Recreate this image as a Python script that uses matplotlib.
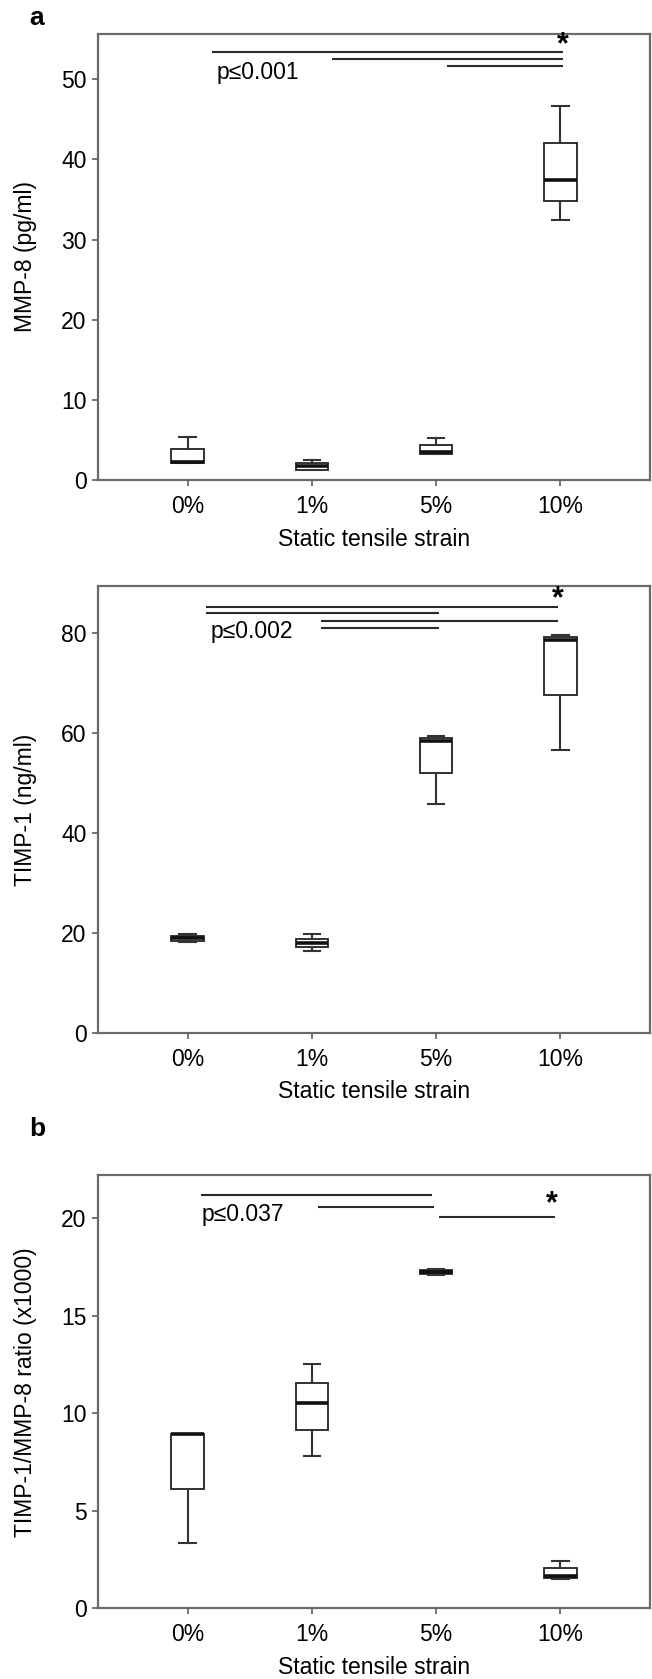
import matplotlib
matplotlib.use('Agg')
import matplotlib.pyplot as plt

plt.rcParams['font.family'] = ['Liberation Sans', 'DejaVu Sans']

categories = ['0%', '1%', '5%', '10%']

# MMP-8 (pg/ml): whisker low, Q1, median, Q3, whisker high
mmp8_lo = [2.1, 1.2, 3.3, 32.4]
mmp8_q1 = [2.14, 1.26, 3.3, 34.8]
mmp8_med = [2.2, 1.76, 3.45, 37.4]
mmp8_q3 = [3.86, 2.17, 4.4, 42.0]
mmp8_hi = [5.36, 2.5, 5.28, 46.7]

# TIMP-1 (ng/ml)
timp_lo = [18.2, 16.4, 45.7, 56.5]
timp_q1 = [18.4, 17.1, 52.0, 67.5]
timp_med = [19.0, 18.0, 58.4, 78.5]
timp_q3 = [19.3, 18.7, 58.9, 79.1]
timp_hi = [19.8, 19.7, 59.3, 79.5]

# TIMP-1/MMP-8 ratio (x1000)
ratio_lo = [3.36, 7.81, 17.1, 1.5]
ratio_q1 = [6.12, 9.16, 17.14, 1.57]
ratio_med = [8.92, 10.51, 17.25, 1.67]
ratio_q3 = [8.92, 11.54, 17.35, 2.05]
ratio_hi = [8.93, 12.54, 17.4, 2.43]

# significance bars: start, end, height
mmp8_bar_x0 = [0.20, 1.16, 2.09]
mmp8_bar_x1 = [3.02, 3.02, 3.02]
mmp8_bar_y = [53.4, 52.5, 51.6]

timp_bar_x0 = [0.15, 0.15, 1.07, 1.07]
timp_bar_x1 = [2.98, 2.02, 2.98, 2.02]
timp_bar_y = [85.2, 83.9, 82.4, 80.9]

ratio_bar_x0 = [0.11, 1.05, 2.02]
ratio_bar_x1 = [1.97, 1.98, 2.96]
ratio_bar_y = [21.2, 20.6, 20.05]

SPINE = '#6a6a6a'
FS = 16.5


def draw_panel(ax, lo, q1, med, q3, hi, ylim, yticks, ylabel,
               bx0, bx1, by, star_xy, ptext, ptext_xy):
    stats = []
    for i in range(len(categories)):
        stats.append(dict(whislo=lo[i], q1=q1[i], med=med[i], q3=q3[i],
                          whishi=hi[i], fliers=[]))
    ax.bxp(stats, positions=range(len(categories)), widths=0.26,
           capwidths=0.13, showfliers=False, patch_artist=True,
           boxprops=dict(facecolor='white', edgecolor='#222222', linewidth=1.3),
           medianprops=dict(color='#111111', linewidth=2.6),
           whiskerprops=dict(color='#333333', linewidth=1.5),
           capprops=dict(color='#333333', linewidth=1.5))
    for x0, x1, y in zip(bx0, bx1, by):
        ax.plot([x0, x1], [y, y], color='#2a2a2a', linewidth=1.5,
                solid_capstyle='butt')
    ax.text(star_xy[0], star_xy[1], '*', fontsize=22, fontweight='bold',
            ha='center', va='center')
    ax.text(ptext_xy[0], ptext_xy[1], ptext, fontsize=FS, ha='left',
            va='center')
    ax.set_xlim(-0.72, 3.72)
    ax.set_ylim(*ylim)
    ax.set_yticks(yticks)
    ax.set_xticks(range(len(categories)))
    ax.set_xticklabels(categories)
    ax.set_ylabel(ylabel, fontsize=FS)
    ax.yaxis.set_label_coords(-0.132, 0.5)
    ax.yaxis.label.set_verticalalignment('center')
    ax.set_xlabel('Static tensile strain', fontsize=FS, labelpad=7)
    ax.tick_params(axis='x', length=4.3, width=1.3, color=SPINE, pad=6.5,
                   labelsize=FS)
    ax.tick_params(axis='y', length=4.3, width=1.3, color=SPINE, pad=4,
                   labelsize=FS)
    for s in ax.spines.values():
        s.set_color(SPINE)
        s.set_linewidth(1.6)


fig = plt.figure(figsize=(6.52, 16.79), dpi=100)
ax1 = fig.add_axes([0.1503, 0.7141, 0.8466, 0.2659])
ax2 = fig.add_axes([0.1503, 0.3849, 0.8466, 0.2660])
ax3 = fig.add_axes([0.1503, 0.0421, 0.8466, 0.2578])

draw_panel(ax1, mmp8_lo, mmp8_q1, mmp8_med, mmp8_q3, mmp8_hi,
           (0, 55.7), [0, 10, 20, 30, 40, 50], 'MMP-8 (pg/ml)',
           mmp8_bar_x0, mmp8_bar_x1, mmp8_bar_y, (3.02, 54.3),
           'p≤0.001', (0.23, 50.9))
draw_panel(ax2, timp_lo, timp_q1, timp_med, timp_q3, timp_hi,
           (0, 89.3), [0, 20, 40, 60, 80], 'TIMP-1 (ng/ml)',
           timp_bar_x0, timp_bar_x1, timp_bar_y, (2.98, 86.6),
           'p≤0.002', (0.185, 80.2))
draw_panel(ax3, ratio_lo, ratio_q1, ratio_med, ratio_q3, ratio_hi,
           (0, 22.2), [0, 5, 10, 15, 20], 'TIMP-1/MMP-8 ratio (x1000)',
           ratio_bar_x0, ratio_bar_x1, ratio_bar_y, (2.93, 20.7),
           'p≤0.037', (0.11, 20.2))

fig.text(29 / 652, 1 - 18 / 1679, 'a', fontsize=19, fontweight='bold',
         ha='left', va='center')
fig.text(29 / 652, 1 - 1129 / 1679, 'b', fontsize=19, fontweight='bold',
         ha='left', va='center')

fig.savefig('out.png', dpi=100)
